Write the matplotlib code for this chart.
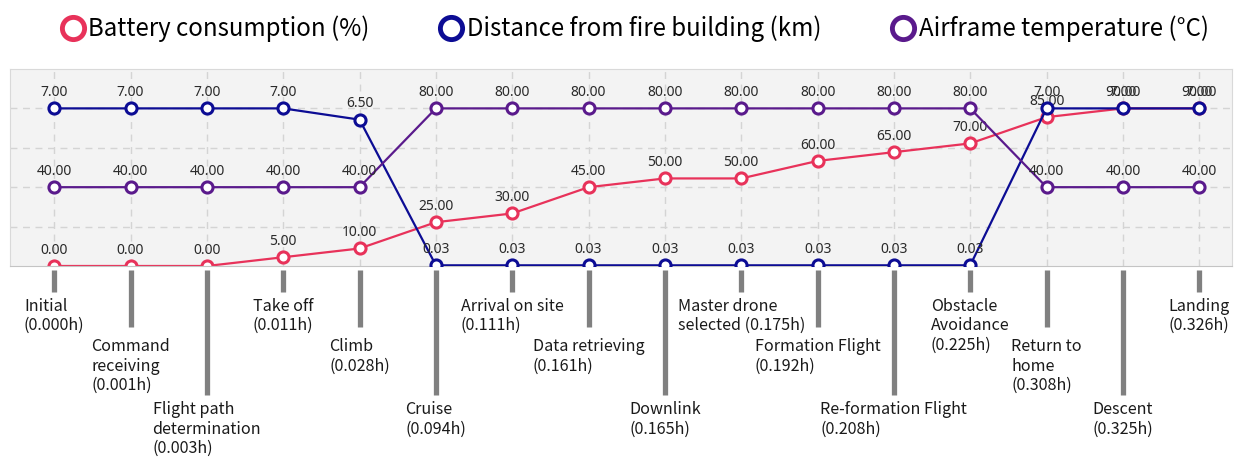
import matplotlib
matplotlib.use("Agg")
import matplotlib.pyplot as plt
from matplotlib.lines import Line2D

stages = ["Initial\n(0.000h)", "Command\nreceiving\n(0.001h)", "Flight path\ndetermination\n(0.003h)",
          "Take off\n(0.011h)", "Climb\n(0.028h)", "Cruise\n(0.094h)", "Arrival on site\n(0.111h)",
          "Data retrieving\n(0.161h)", "Downlink\n(0.165h)", "Master drone\nselected (0.175h)",
          "Formation Flight\n(0.192h)", "Re-formation Flight\n(0.208h)", "Obstacle\nAvoidance\n(0.225h)",
          "Return to\nhome\n(0.308h)", "Descent\n(0.325h)", "Landing\n(0.326h)"]
battery = [0, 0, 0, 5, 10, 25, 30, 45, 50, 50, 60, 65, 70, 85, 90, 90]
distance = [7, 7, 7, 7, 6.5, 0.03, 0.03, 0.03, 0.03, 0.03, 0.03, 0.03, 0.03, 7, 7, 7]
temperature = [40, 40, 40, 40, 40, 80, 80, 80, 80, 80, 80, 80, 80, 40, 40, 40]
label_level = [0, 1, 2, 0, 1, 2, 0, 1, 2, 0, 1, 2, 0, 1, 2, 0]

c_bat = "#e8325a"
c_dist = "#0c0c94"
c_temp = "#5a1a8c"

lab_font = ["Noto Sans CJK JP", "DejaVu Sans"]
num_font = ["Noto Sans", "DejaVu Sans"]

fig = plt.figure(figsize=(12.42, 4.63), dpi=100)
ax = fig.add_axes([0.008, 0.4255, 0.984, 0.4255])
ax.set_facecolor("#f3f3f3")
x = list(range(len(stages)))

ax.set_xlim(-0.58, 15.43)
ax.set_ylim(0, 112.5)
ax.set_xticks(x)
ax.set_yticks([22.5, 45, 67.5, 90])
ax.tick_params(length=0, labelbottom=False, labelleft=False)
ax.grid(True, color="#d4d4d4", linestyle=(0, (5, 4)), linewidth=1)
for s in ax.spines.values():
    s.set_color("#d9d9d9")
ax.spines["bottom"].set_color("#c4c4c4")

ax2 = ax.twinx()
ax2.set_ylim(0, 8.75)
ax3 = ax.twinx()
ax3.set_ylim(0, 100)
for a in (ax2, ax3):
    a.set_yticks([])
    for s in a.spines.values():
        s.set_visible(False)

series = [(ax, battery, c_bat), (ax2, distance, c_dist), (ax3, temperature, c_temp)]
for a, vals, col in series:
    a.plot(x, vals, color=col, linewidth=1.6, marker="o", markersize=8,
           markerfacecolor="white", markeredgewidth=2.2, markeredgecolor=col)
    for xi, v in zip(x, vals):
        a.annotate(f"{v:.2f}", (xi, v), xytext=(0, 6), textcoords="offset points",
                   ha="center", va="bottom", fontsize=10, color="#2a2a2a",
                   family=num_font, annotation_clip=False)

# stage labels with gray leader bars
bar_bottom = [-0.13, -0.31, -0.655]
text_top = [-0.16, -0.365, -0.685]
trans = ax.get_xaxis_transform()
for xi, name, lv in zip(x, stages, label_level):
    ax.plot([xi, xi], [-0.02, bar_bottom[lv]], transform=trans, color="#808080",
            linewidth=3.8, solid_capstyle="butt", clip_on=False)
    ax.text(xi, text_top[lv], name, transform=trans, ha="center", va="top",
            multialignment="left", fontsize=11.6, color="#1a1a1a", family=lab_font,
            linespacing=1.2)

handles = [Line2D([], [], linestyle="none", marker="o", markersize=16, markerfacecolor="white",
                  markeredgewidth=3.5, markeredgecolor=c) for c in (c_bat, c_dist, c_temp)]
names = ["Battery consumption (%)", "Distance from fire building (km)", "Airframe temperature (°C)"]
fig.legend(handles, names, loc="center", bbox_to_anchor=(0.51, 0.938), ncol=3, frameon=False,
           handlelength=1.2, handletextpad=0.05, columnspacing=2.8,
           prop={"family": lab_font, "size": 17.3})

fig.savefig("out.png", dpi=100)
